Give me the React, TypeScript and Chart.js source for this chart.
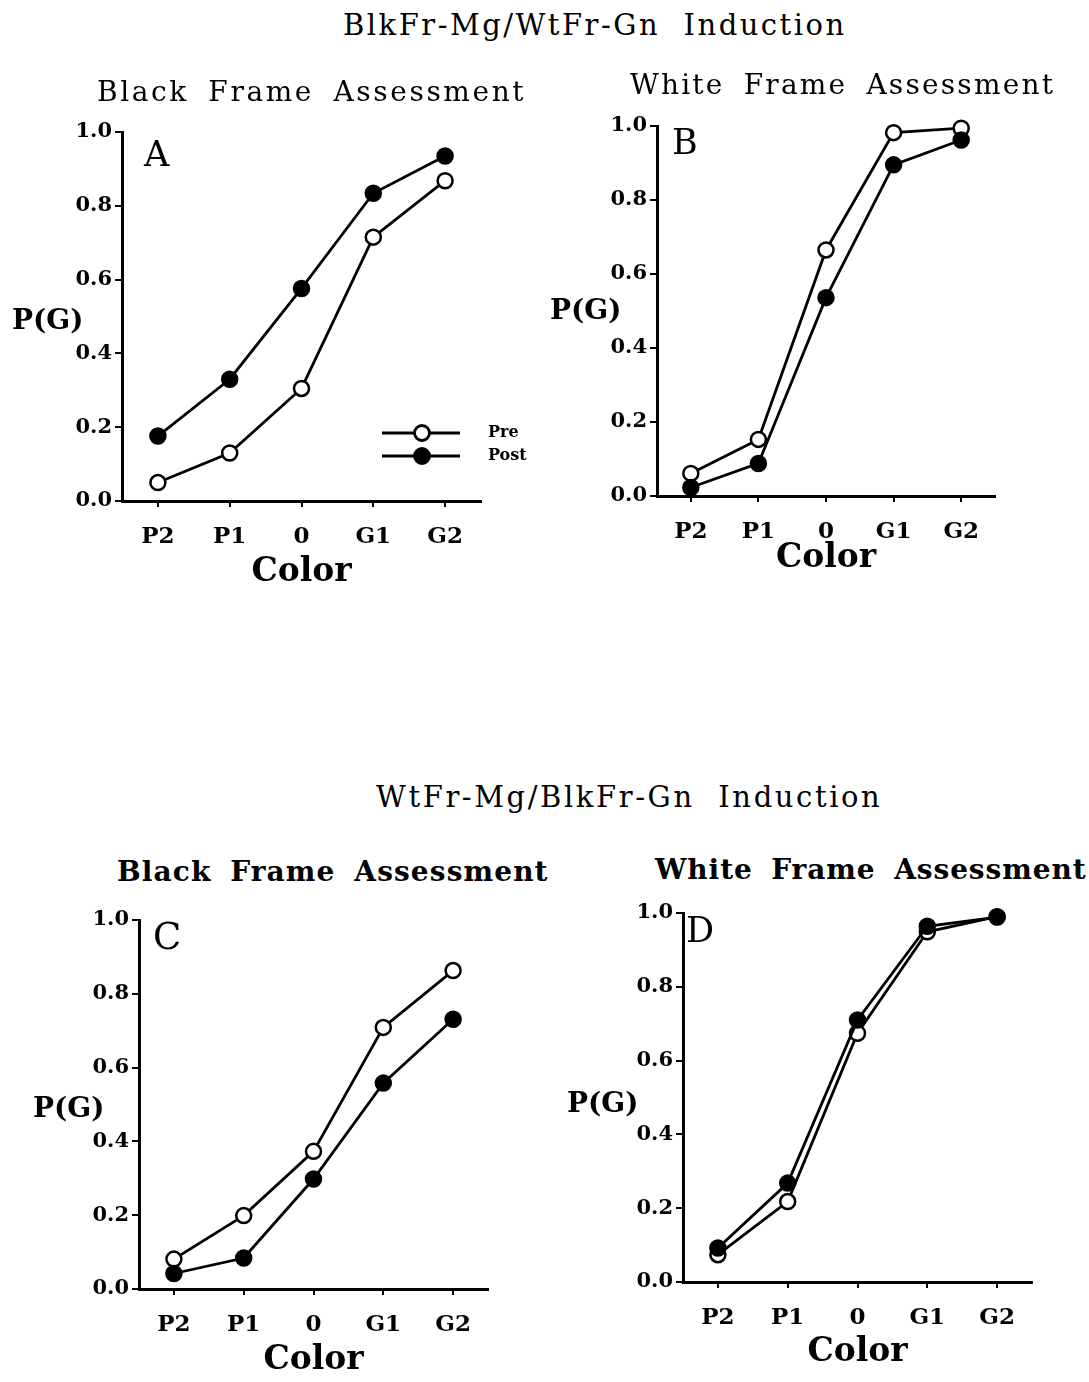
import React, { useEffect, useRef } from "react";
import { Chart, registerables } from "chart.js";

Chart.register(...registerables);

// ---------- data ----------
const categories = ["P2", "P1", "0", "G1", "G2"];
const yTicks = [0, 0.2, 0.4, 0.6, 0.8, 1.0];

const preA = [0.05, 0.13, 0.305, 0.715, 0.868];
const postA = [0.176, 0.33, 0.576, 0.834, 0.935];

const preB = [0.061, 0.153, 0.665, 0.982, 0.994];
const postB = [0.023, 0.088, 0.536, 0.895, 0.962];

const preC = [0.081, 0.199, 0.373, 0.709, 0.863];
const postC = [0.042, 0.084, 0.298, 0.558, 0.731];

const preD = [0.074, 0.218, 0.674, 0.949, 0.99];
const postD = [0.092, 0.268, 0.71, 0.964, 0.989];

const seriesNames = ["Pre", "Post"];
const xTitle = "Color";
const yTitle = "P(G)";

const FAMILY = "'DejaVu Serif', 'Liberation Serif', serif";

type PanelProps = {
  cx: number; cy: number; cw: number; ch: number;
  L: number; R: number; T: number; B: number;
  titleOffset: number;
  pre: number[]; post: number[];
  legend?: { x: number; y: number } | null;
};

function Panel(p: PanelProps) {
  const ref = useRef<HTMLCanvasElement | null>(null);
  useEffect(() => {
    if (!ref.current) return;
    const xh = p.titleOffset + 20;
    const legendPlugin = {
      id: "lineLegend",
      afterDraw(chart: any) {
        if (!p.legend) return;
        const ctx = chart.ctx;
        const lx = p.legend.x - p.cx;
        const ly = p.legend.y - p.cy;
        const rows = [
          { name: seriesNames[0], fill: "#fff" },
          { name: seriesNames[1], fill: "#000" },
        ];
        ctx.save();
        rows.forEach((r, i) => {
          const y = ly + i * 23;
          ctx.strokeStyle = "#000";
          ctx.lineWidth = 2.8;
          ctx.beginPath();
          ctx.moveTo(lx, y);
          ctx.lineTo(lx + 78, y);
          ctx.stroke();
          ctx.beginPath();
          ctx.arc(lx + 40, y, 7.5, 0, Math.PI * 2);
          ctx.fillStyle = r.fill;
          ctx.fill();
          ctx.stroke();
          ctx.fillStyle = "#000";
          ctx.font = `bold 16px ${FAMILY}`;
          ctx.textBaseline = "middle";
          ctx.textAlign = "left";
          ctx.fillText(r.name, lx + 106, y);
        });
        ctx.restore();
      },
    };
    const common = {
      borderColor: "#000",
      borderWidth: 2.8,
      pointRadius: 7.5,
      pointBorderWidth: 2.5,
      pointBorderColor: "#000",
      tension: 0,
      clip: false,
    };
    const chart = new Chart(ref.current, {
      type: "line",
      data: {
        labels: categories,
        datasets: [
          { ...common, label: seriesNames[1], data: p.post, pointBackgroundColor: "#000" },
          { ...common, label: seriesNames[0], data: p.pre, pointBackgroundColor: "#fff" },
        ],
      },
      options: {
        animation: false,
        responsive: false,
        maintainAspectRatio: false,
        devicePixelRatio: 1,
        layout: {
          padding: {
            left: 0,
            right: p.cx + p.cw - p.R,
            top: p.T - p.cy,
            bottom: p.cy + p.ch - (p.B + xh),
          },
        },
        plugins: {
          legend: { display: false },
          tooltip: { enabled: false },
          title: { display: false },
        },
        scales: {
          x: {
            type: "category",
            offset: true,
            grid: {
              offset: false,
              drawOnChartArea: false,
              drawTicks: true,
              tickLength: 6,
              color: "#000",
              lineWidth: 2,
            },
            border: { display: true, color: "#000", width: 3 },
            ticks: {
              color: "#000",
              font: { family: FAMILY, size: 23, weight: "bold" },
              padding: 16,
              maxRotation: 0,
              autoSkip: false,
            },
            title: {
              display: true,
              text: xTitle,
              color: "#000",
              font: { family: FAMILY, size: 33, weight: "bold" },
              padding: 0,
            },
            afterFit: (s: any) => {
              s.height = xh;
            },
          },
          y: {
            type: "linear",
            min: 0,
            max: 1,
            afterBuildTicks: (s: any) => {
              s.ticks = yTicks.map((v) => ({ value: v }));
            },
            grid: {
              drawOnChartArea: false,
              drawTicks: true,
              tickLength: 7,
              color: "#000",
              lineWidth: 2,
            },
            border: { display: true, color: "#000", width: 3 },
            ticks: {
              color: "#000",
              font: { family: FAMILY, size: 21, weight: "bold" },
              padding: 3,
              callback: (v: any) => Number(v).toFixed(1),
            },
            afterFit: (s: any) => {
              s.width = p.L - p.cx;
            },
          },
        },
      },
      plugins: [legendPlugin],
    } as any);
    return () => chart.destroy();
  }, []);
  return (
    <canvas
      ref={ref}
      width={p.cw}
      height={p.ch}
      style={{ position: "absolute", left: p.cx, top: p.cy, width: p.cw, height: p.ch }}
    />
  );
}

type TextItem = {
  text: string; x: number; y: number; size: number; bold?: boolean;
  ls?: number; ws?: number;
};

const texts: TextItem[] = [
  { text: "BlkFr-Mg/WtFr-Gn  Induction", x: 343, y: 25, size: 29, ls: 2.5, ws: 0 },
  { text: "Black Frame Assessment", x: 97, y: 92, size: 28, ls: 2.6, ws: 8 },
  { text: "White Frame Assessment", x: 630, y: 85, size: 28, ls: 2.2, ws: 8 },
  { text: "WtFr-Mg/BlkFr-Gn  Induction", x: 376, y: 797, size: 29, ls: 2.6, ws: 0 },
  { text: "Black Frame Assessment", x: 117, y: 872, size: 28, bold: true, ls: 1.1, ws: 8 },
  { text: "White Frame Assessment", x: 655, y: 870, size: 28, bold: true, ls: 0.9, ws: 8 },
  { text: "A", x: 144, y: 154, size: 35 },
  { text: "B", x: 672, y: 142, size: 35 },
  { text: "C", x: 153, y: 936, size: 37 },
  { text: "D", x: 686, y: 930, size: 35 },
  { text: yTitle, x: 12, y: 320, size: 28, bold: true },
  { text: yTitle, x: 550, y: 310, size: 28, bold: true },
  { text: yTitle, x: 33, y: 1108, size: 28, bold: true },
  { text: yTitle, x: 567, y: 1103, size: 28, bold: true },
];

export default function App() {
  return (
    <div
      style={{
        position: "absolute",
        left: 0,
        top: 0,
        width: 1089,
        height: 1382,
        background: "#fff",
        overflow: "hidden",
        fontFamily: FAMILY,
        color: "#000",
      }}
    >
      <Panel cx={0} cy={100} cw={540} ch={520} L={122} R={481} T={132} B={501}
        titleOffset={71} pre={preA} post={postA} legend={{ x: 382, y: 433 }} />
      <Panel cx={540} cy={100} cw={549} ch={520} L={657} R={995} T={126} B={496}
        titleOffset={62} pre={preB} post={postB} />
      <Panel cx={0} cy={890} cw={540} ch={492} L={139} R={488} T={920} B={1289}
        titleOffset={71} pre={preC} post={postC} />
      <Panel cx={540} cy={890} cw={549} ch={492} L={683} R={1032} T={913} B={1282}
        titleOffset={70} pre={preD} post={postD} />
      {texts.map((t, i) => (
        <div
          key={i}
          style={{
            position: "absolute",
            left: t.x,
            top: t.y - t.size / 2,
            height: t.size,
            lineHeight: `${t.size}px`,
            fontSize: t.size,
            fontWeight: t.bold ? "bold" : "normal",
            letterSpacing: t.ls ? `${t.ls}px` : undefined,
            wordSpacing: t.ws ? `${t.ws}px` : undefined,
            whiteSpace: "pre",
            zIndex: 2,
          }}
        >
          {t.text}
        </div>
      ))}
    </div>
  );
}
